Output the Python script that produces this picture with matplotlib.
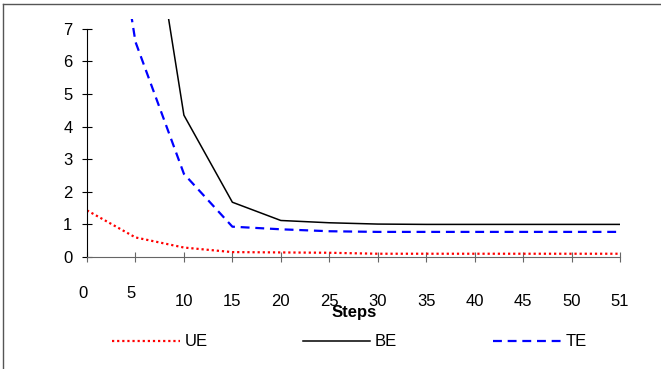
import matplotlib
matplotlib.use('Agg')
import matplotlib.pyplot as plt
from matplotlib.lines import Line2D
from matplotlib.transforms import ScaledTranslation

plt.rcParams['font.family'] = ['Liberation Sans', 'DejaVu Sans']

steps = ['0', '5', '10', '15', '20', '25', '30', '35', '40', '45', '50', '51']
ue = [1.43, 0.60, 0.29, 0.15, 0.14, 0.13, 0.10, 0.10, 0.10, 0.10, 0.10, 0.10]
be = [25.0, 13.7, 4.35, 1.68, 1.12, 1.05, 1.01, 1.00, 1.00, 1.00, 1.00, 1.00]
te = [16.0, 6.6, 2.55, 0.93, 0.85, 0.79, 0.77, 0.77, 0.77, 0.77, 0.77, 0.77]

fig = plt.figure(figsize=(6.61, 3.69), dpi=100)
ax = fig.add_axes([87 / 661, 1 - 257 / 369, (620 - 87) / 661, (257 - 19) / 369])

x = list(range(len(steps)))
ax.plot(x, ue, color='red', linestyle=(0, (1, 1.3)), linewidth=1.6)
ax.plot(x, be, color='black', linestyle='-', linewidth=1.1)
ax.plot(x, te, color='blue', linestyle=(0, (4, 2.6)), linewidth=1.6)

ax.set_xlim(0, len(steps) - 1)
ax.set_ylim(0, 7.3)
ax.set_yticks(range(0, 8))
ax.set_xticks(x)
ax.set_xticklabels(steps)

for s in ['top', 'right']:
    ax.spines[s].set_visible(False)
ax.spines['left'].set_bounds(0, 7)
ax.spines['left'].set_color('black')
ax.spines['bottom'].set_color('#666666')
ax.tick_params(axis='y', direction='inout', length=7, width=0.8, pad=7, labelsize=12)
ax.tick_params(axis='x', direction='inout', length=7, width=0.8, color='#666666',
               pad=23.5, labelsize=12)

# first two category labels sit a bit higher and to the left
for lab in ax.get_xticklabels()[:2]:
    lab.set_transform(lab.get_transform() + ScaledTranslation(-4 / 100, 8 / 100, fig.dpi_scale_trans))

fig.text(354 / 661, 1 - 313 / 369, 'Steps', ha='center', va='center',
         fontsize=12, fontweight='bold')

# legend below
ly = 1 - 341 / 369
legend_items = [
    (112, 180, 'UE', dict(color='red', linestyle=(0, (1, 1.3)), linewidth=1.6)),
    (303, 370, 'BE', dict(color='black', linestyle='-', linewidth=1.1)),
    (493, 561, 'TE', dict(color='blue', linestyle=(0, (4, 2.6)), linewidth=1.6)),
]
for x0, x1, name, style in legend_items:
    fig.add_artist(Line2D([x0 / 661, x1 / 661], [ly, ly], transform=fig.transFigure, **style))
    fig.text((x1 + 5) / 661, ly, name, ha='left', va='center', fontsize=12)

# outer frame (top and left edges visible)
fig.add_artist(Line2D([3 / 661, 1], [1 - 4 / 369, 1 - 4 / 369], transform=fig.transFigure,
                      color='#555555', linewidth=1))
fig.add_artist(Line2D([3 / 661, 3 / 661], [0, 1 - 4 / 369], transform=fig.transFigure,
                      color='#555555', linewidth=1))

fig.savefig('out.png', dpi=100)
